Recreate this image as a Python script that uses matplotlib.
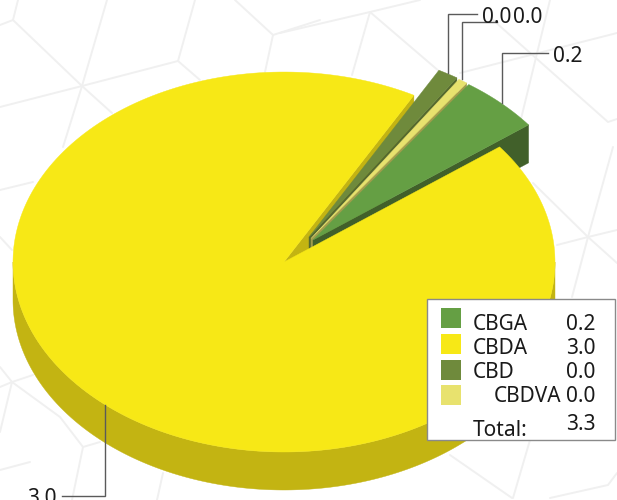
import numpy as np
import matplotlib
matplotlib.use("Agg")
import matplotlib.pyplot as plt
from matplotlib.patches import Polygon, Rectangle

# ---- data
names = ["CBGA", "CBDA", "CBD", "CBDVA"]
values = [0.159, 3.03, 0.040, 0.018]
value_labels = ["0.2", "3.0", "0.0", "0.0"]
total_label = "3.3"
top_colors = ["#659f44", "#f7e816", "#6f8a3c", "#e8e26e"]
wall_colors = ["#41602a", "#c3b412", "#55692e", "#a29c4c"]

# ---- geometry of the pseudo-3D pie (pixels)
W, H = 617, 500
CX, CY, RX, RY, DEPTH = 284, 262, 271, 190, 38
START = 37.3
EXPLODE = {0: (29, -22), 2: (25, -25), 3: (27, -23.5)}
FONT = "Noto Sans"
FS = 15

fig = plt.figure(figsize=(W / 100, H / 100), dpi=100)
ax = fig.add_axes([0, 0, 1, 1])
ax.set_xlim(0, W)
ax.set_ylim(H, 0)
ax.axis("off")

# faint decorative background
bg = [
    [(107, 0), (82, 86), (63, 147)], [(0, 107), (82, 86), (178, 61), (195, 0)],
    [(18, 0), (13, 20), (82, 86), (112, 113)], [(0, 25), (13, 20)],
    [(178, 61), (200, 80)], [(235, 0), (273, 35), (265, 72)], [(273, 35), (320, 20)],
    [(280, 33), (370, 12), (420, 0)], [(370, 12), (352, 75)], [(370, 12), (440, 72)],
    [(550, 0), (520, 123)], [(493, 20), (608, 122), (617, 119)], [(460, 73), (617, 33)],
    [(613, 147), (588, 237), (572, 297)], [(588, 237), (557, 245)], [(588, 237), (617, 230)],
    [(533, 183), (588, 237), (617, 263)],
    [(0, 190), (33, 182)], [(0, 237), (12, 250)],
    [(0, 367), (12, 382), (60, 417), (83, 447), (100, 442)], [(0, 387), (12, 382), (33, 375)],
    [(12, 382), (0, 432)], [(83, 447), (72, 500)],
    [(163, 473), (157, 500)], [(0, 470), (30, 462)],
    [(530, 440), (513, 498)], [(450, 455), (512, 498)],
    [(550, 498), (608, 485), (617, 473)],
]
for seg in bg:
    xs, ys = zip(*seg)
    ax.plot(xs, ys, color="#f0f0f0", lw=1.4, zorder=0, solid_capstyle="round")

# angular extents computed from the values
total = sum(values)
order = [0, 3, 2, 1]  # counter-clockwise from START
spans = {}
a = START
for i in order:
    s = 360.0 * values[i] / total
    spans[i] = (a, a + s)
    a += s


def pt(ang, dx=0, dy=0):
    t = np.radians(ang)
    return CX + dx + RX * np.cos(t), CY + dy - RY * np.sin(t)


def top_poly(a0, a1, dx=0, dy=0):
    ts = np.linspace(a0, a1, 240)
    return [(CX + dx, CY + dy)] + [pt(t, dx, dy) for t in ts]


def edge_wall(ang, dx=0, dy=0):
    p = pt(ang, dx, dy)
    c = (CX + dx, CY + dy)
    return [c, p, (p[0], p[1] + DEPTH), (c[0], c[1] + DEPTH)]


def add(poly, color, z):
    ax.add_patch(Polygon(poly, closed=True, fc=color, ec=color, lw=0.3, zorder=z))


# yellow wedge: walls first
y0, y1 = spans[1]
add(edge_wall(y0), wall_colors[1], 2)
arc = [pt(t) for t in np.linspace(180, 360, 300)]
add(arc + [(x, yy + DEPTH) for x, yy in arc[::-1]], wall_colors[1], 2)

# exploded slices, back to front
z = 3
for i in [2, 3, 0]:
    a0, a1 = spans[i]
    add(edge_wall(a0, *EXPLODE[i]), wall_colors[i], z)
    add(top_poly(a0, a1, *EXPLODE[i]), top_colors[i], z + 0.5)
    z += 1

# yellow top last, hides the lower part of the green wall
add(top_poly(y0, y1), top_colors[1], 7)

# leader lines and labels
LC = "#5a5a5a"
leaders = [
    ([448, 448, 477], [73, 14, 14]),
    ([462, 462, 497], [79, 22, 22]),
    ([502, 502, 548], [103, 53, 53]),
    ([105, 105, 62], [405, 496, 496]),
]
for xs, ys in leaders:
    ax.plot(xs, ys, color=LC, lw=1.0, zorder=8, solid_joinstyle="miter")


def txt(x, y, s, ha="left"):
    ax.text(x, y, s, fontsize=FS, family=FONT, color="#1a1a1a", ha=ha, va="center_baseline", zorder=11)


txt(482, 15, value_labels[2])
txt(513, 15, value_labels[3])
txt(553, 54, value_labels[0])
txt(27, 496, value_labels[1])

# legend box
ax.add_patch(Rectangle((426.5, 298.5), 188, 141, fc="white", ec="#8a8a8a", lw=1, zorder=9))
sw_y = [308, 334, 360, 385]
text_y = [322, 346, 370, 394]
name_x = [473, 473, 473, 494]
for i in range(4):
    ax.add_patch(Rectangle((441, sw_y[i]), 20, 20, fc=top_colors[i], ec="none", zorder=10))
    txt(name_x[i], text_y[i], names[i])
    txt(566, text_y[i], value_labels[i])
txt(473, 428, "Total:")
txt(566, 422, total_label)

fig.savefig("out.png", dpi=100, facecolor="white")
